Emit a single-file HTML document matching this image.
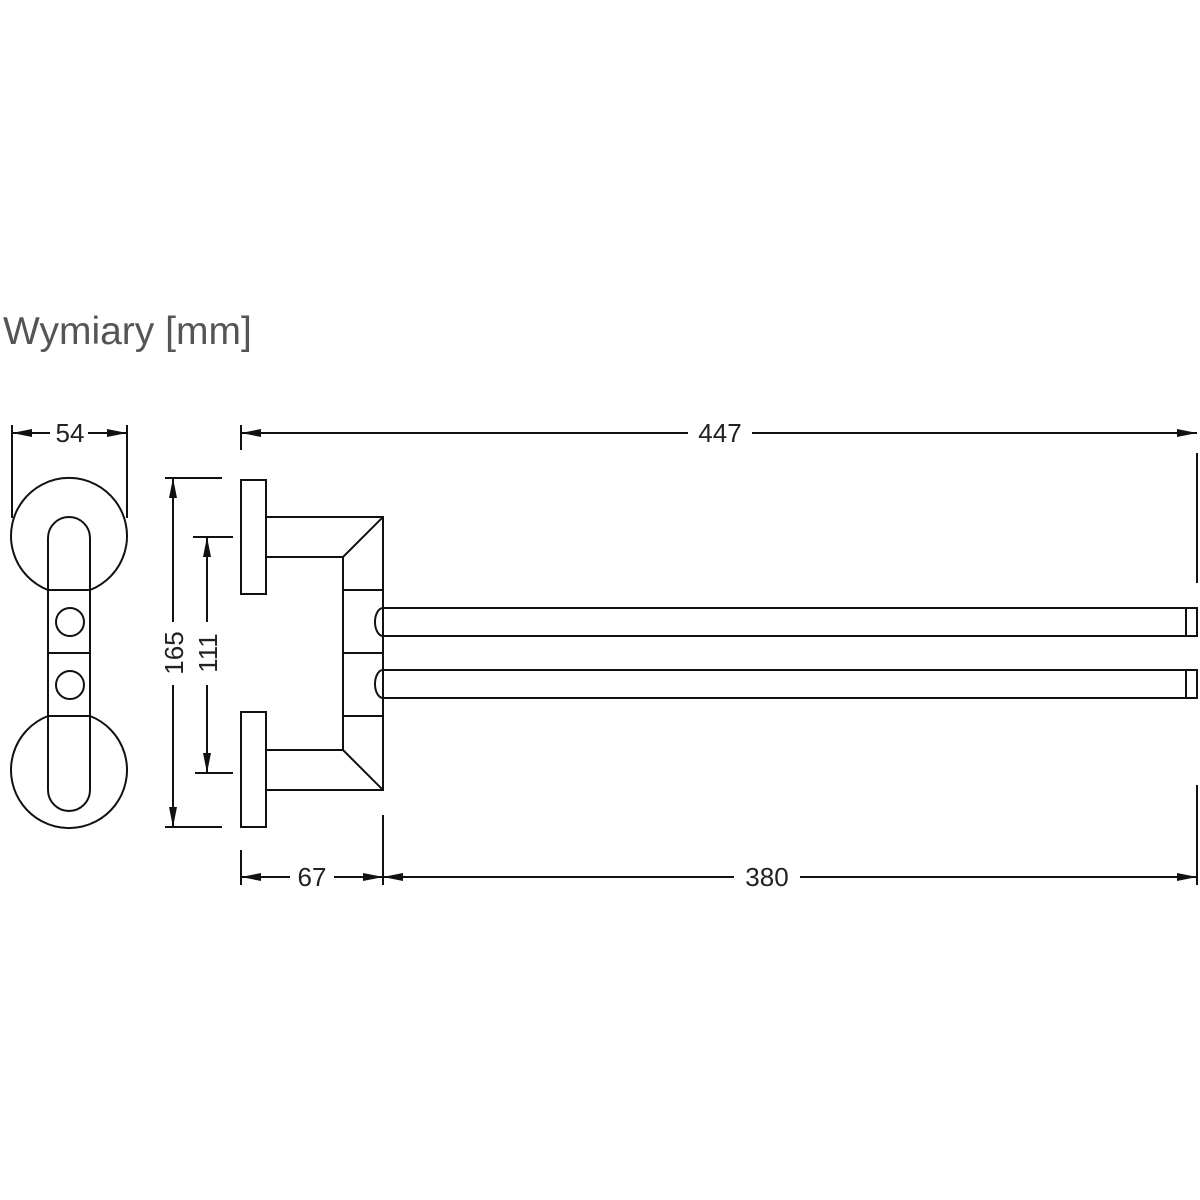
<!DOCTYPE html>
<html><head><style>body{margin:0;background:#fff}svg{display:block}</style></head><body>
<svg width="1200" height="1200" viewBox="0 0 1200 1200" xmlns="http://www.w3.org/2000/svg" font-family="Liberation Sans, sans-serif">
<defs>
<marker id="a" viewBox="0 0 20 8" refX="20" refY="4" markerWidth="20" markerHeight="8" markerUnits="userSpaceOnUse" orient="auto-start-reverse"><path d="M0,0 L20,4 L0,8 Z" fill="#111"/></marker>
</defs>
<rect width="1200" height="1200" fill="#fff"/>
<text x="3" y="344" font-size="39" fill="#555">Wymiary [mm]</text>
<g fill="none" stroke="#111" stroke-width="2">
<path d="M48,590 A58,58 0 1 1 90,590"/>
<path d="M48,716 A58,58 0 1 0 90,716"/>
<path d="M48,790 L48,538 A21,21 0 0 1 90,538 L90,790 A21,21 0 0 1 48,790"/>
<line x1="48" y1="590" x2="90" y2="590"/><line x1="48" y1="653" x2="90" y2="653"/><line x1="48" y1="716" x2="90" y2="716"/>
<circle cx="70" cy="622" r="14"/><circle cx="70" cy="685" r="14"/>
<line x1="12" y1="425" x2="12" y2="518"/><line x1="127" y1="425" x2="127" y2="518"/>
<line x1="12" y1="433" x2="50" y2="433" marker-start="url(#a)"/><line x1="88" y1="433" x2="127" y2="433" marker-end="url(#a)"/>
<line x1="165" y1="478" x2="222" y2="478"/><line x1="165" y1="827" x2="222" y2="827"/>
<line x1="173" y1="478" x2="173" y2="622" marker-start="url(#a)"/><line x1="173" y1="685" x2="173" y2="827" marker-end="url(#a)"/>
<line x1="193" y1="537" x2="233" y2="537"/><line x1="195" y1="773" x2="233" y2="773"/>
<line x1="207" y1="537" x2="207" y2="622" marker-start="url(#a)"/><line x1="207" y1="685" x2="207" y2="773" marker-end="url(#a)"/>
<line x1="241" y1="425" x2="241" y2="450"/><line x1="1197" y1="453" x2="1197" y2="583"/>
<line x1="241" y1="433" x2="688" y2="433" marker-start="url(#a)"/><line x1="752" y1="433" x2="1197" y2="433" marker-end="url(#a)"/>
<line x1="241" y1="850" x2="241" y2="885"/><line x1="383" y1="815" x2="383" y2="885"/><line x1="1197" y1="785" x2="1197" y2="885"/>
<line x1="241" y1="877" x2="290" y2="877" marker-start="url(#a)"/><line x1="334" y1="877" x2="383" y2="877" marker-end="url(#a)"/>
<line x1="383" y1="877" x2="734" y2="877" marker-start="url(#a)"/><line x1="800" y1="877" x2="1197" y2="877" marker-end="url(#a)"/>
<rect x="241" y="480" width="25" height="114"/><rect x="241" y="712" width="25" height="115"/>
<path d="M266,517 L383,517 L383,790 L266,790"/>
<path d="M266,557 L343,557 L343,750 L266,750"/>
<line x1="383" y1="517" x2="343" y2="557"/><line x1="343" y1="750" x2="383" y2="790"/>
<line x1="343" y1="590" x2="383" y2="590"/><line x1="343" y1="653" x2="383" y2="653"/><line x1="343" y1="716" x2="383" y2="716"/>
<path d="M383,608 L1197,608 L1197,636 L383,636 A8,14 0 0 1 383,608"/>
<line x1="1186" y1="608" x2="1186" y2="636"/>
<path d="M383,670 L1197,670 L1197,698 L383,698 A8,14 0 0 1 383,670"/>
<line x1="1186" y1="670" x2="1186" y2="698"/>
</g>
<g font-size="26" fill="#222" text-anchor="middle">
<text x="70" y="442">54</text>
<text x="720" y="442">447</text>
<text x="312" y="886">67</text>
<text x="767" y="886">380</text>
<text transform="translate(183,653) rotate(-90)">165</text>
<text transform="translate(217,653) rotate(-90)">111</text>
</g>
</svg>
</body></html>
